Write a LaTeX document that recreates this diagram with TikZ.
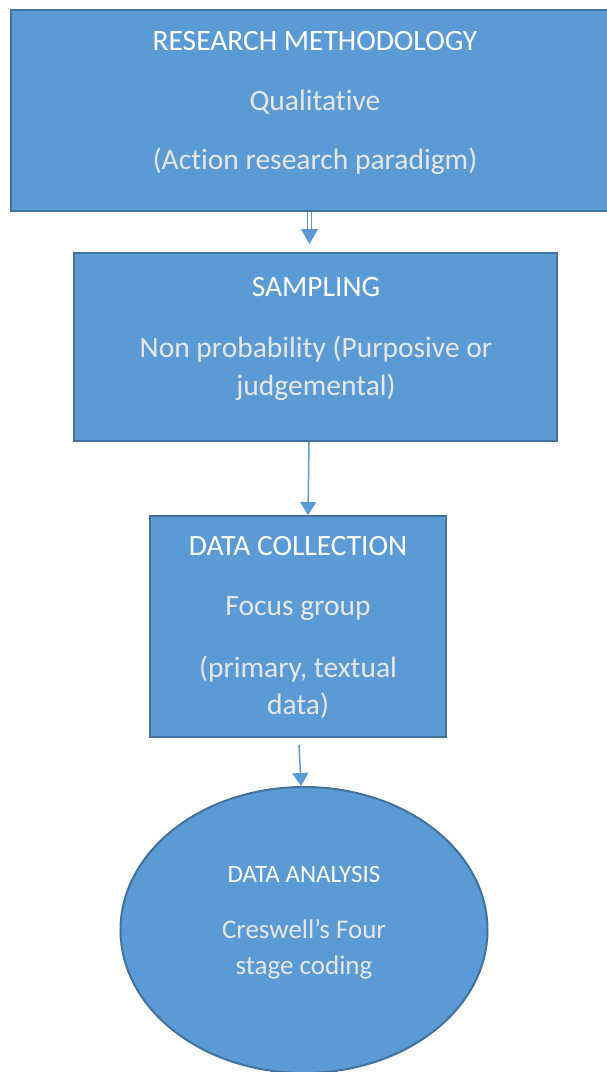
\documentclass[tikz,border=0pt]{standalone}
\usepackage{fontspec}
\setmainfont[Ligatures={NoCommon}]{Carlito}
\usetikzlibrary{arrows.meta,shapes.geometric}
\definecolor{boxfill}{HTML}{5B9BD5}
\definecolor{boxline}{HTML}{41719C}
\definecolor{subtext}{HTML}{E7E6E6}
\begin{document}
\begin{tikzpicture}[x=1pt,y=-1pt,
  stage/.style={draw=boxline, line width=2pt, fill=boxfill, inner sep=0pt},
  head/.style={font=\fontsize{29.5}{33}\selectfont, text=white, anchor=base, inner sep=0pt},
  small head/.style={head, font=\fontsize{25}{29}\selectfont},
  body/.style={font=\fontsize{29.5}{33}\selectfont, text=subtext, anchor=base, inner sep=0pt},
  small body/.style={body, font=\fontsize{27}{31}\selectfont},
  link/.style={draw=boxfill, line width=1.5pt, -{Triangle[length=13pt,width=16pt]}}]
\useasboundingbox (0,0) rectangle (606,1072);

% stages
\node[stage, rectangle, minimum width=609pt, minimum height=201pt] (method) at (315.5,110.5) {};
\node[stage, rectangle, minimum width=483pt, minimum height=188pt] (sampling) at (315.5,347) {};
\node[stage, rectangle, minimum width=296pt, minimum height=221pt] (collection) at (298,626.5) {};
\node[stage, ellipse, minimum width=367pt, minimum height=286pt] (analysis) at (304,930) {};

% connectors
\draw[draw=boxfill, line width=1pt, double=white, double distance=3pt,
  -{Triangle[length=15pt,width=17pt]}]
  ([xshift=-6pt]method.south) -- ([xshift=-6pt,yshift=8pt]sampling.north);
\draw[link] ([xshift=-6.5pt]sampling.south) -- ([xshift=10pt]collection.north);
\draw[link] ([xshift=1pt,yshift=-7pt]collection.south) -- ([xshift=-3pt]analysis.north);

% labels
\node[head] (m1) at (315,50) {RESEARCH METHODOLOGY};
\node[body] (m2) at (315,110) {Qualitative};
\node[body] (m3) at (315,169) {(Action research paradigm)};

\node[head] (s1) at (316,296) {SAMPLING};
\node[body] (s2) at (316,357) {Non probability (Purposive or};
\node[body] (s3) at (316,395) {judgemental)};

\node[head] (c1) at (298,555) {DATA COLLECTION};
\node[body] (c2) at (298,615) {Focus group};
\node[body] (c3) at (298,677) {(primary, textual};
\node[body] (c4) at (298,714) {data)};

\node[small head] (a1) at (304,882.5) {DATA ANALYSIS};
\node[small body] (a2) at (304,938) {Creswell’s Four};
\node[small body] (a3) at (304,974) {stage coding};
\end{tikzpicture}
\end{document}
